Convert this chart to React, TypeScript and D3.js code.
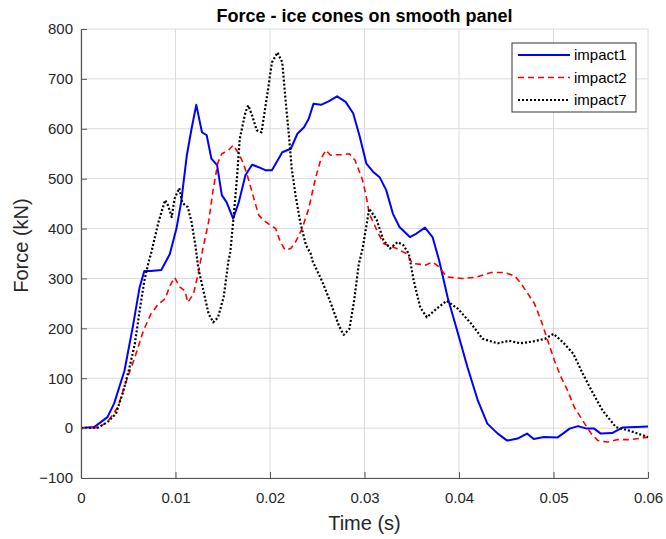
import React, { useEffect, useRef } from 'react';
import * as d3 from 'd3';

// impact1 (blue, solid)
const time1 = [0, 0.0014, 0.0028, 0.0035, 0.0046, 0.0055, 0.0062, 0.0067, 0.0074, 0.0085,
  0.0094, 0.0101, 0.0106, 0.0112, 0.0117, 0.0122, 0.0128, 0.0133, 0.0138, 0.0144,
  0.0149, 0.0154, 0.0161, 0.0167, 0.0174, 0.0181, 0.0188, 0.0195, 0.0202, 0.0206,
  0.0213, 0.0222, 0.0229, 0.0236, 0.0241, 0.0246, 0.0254, 0.0262, 0.0271, 0.028,
  0.0288, 0.0295, 0.0302, 0.0309, 0.0316, 0.0323, 0.033, 0.0337, 0.0348, 0.0355,
  0.0364, 0.0372, 0.0379, 0.0388, 0.0399, 0.0409, 0.042, 0.043, 0.0441, 0.0451,
  0.0462, 0.0472, 0.0479, 0.049, 0.0504, 0.051, 0.0517, 0.0526, 0.0535, 0.0543,
  0.055, 0.0562, 0.0573, 0.0587, 0.06];
const force1 = [0, 2, 22, 49, 115, 205, 282, 315, 315, 317,
  349, 400, 453, 547, 600, 648, 593, 587, 540, 527,
  467, 453, 420, 453, 507, 528, 523, 517, 517, 530,
  553, 560, 590, 603, 620, 650, 648, 655, 665, 654,
  631, 584, 530, 514, 503, 477, 430, 403, 383, 390,
  402, 383, 336, 262, 189, 122, 55, 9, -11, -25,
  -21, -11, -22, -18, -19, -11, -1, 4, -1, -1,
  -11, -10, 1, 2, 3];

// impact2 (red, dashed)
const time2 = [0, 0.0018, 0.0028, 0.0039, 0.0048, 0.0057, 0.0066, 0.0074, 0.0082, 0.0089,
  0.0094, 0.0099, 0.0105, 0.011, 0.0113, 0.0119, 0.0124, 0.0129, 0.0135, 0.014,
  0.0145, 0.0149, 0.0156, 0.0161, 0.0167, 0.0172, 0.0177, 0.0183, 0.0188, 0.0193,
  0.02, 0.0206, 0.0211, 0.0216, 0.0222, 0.0227, 0.0234, 0.0241, 0.0248, 0.0254,
  0.0259, 0.0264, 0.027, 0.0277, 0.0284, 0.029, 0.0298, 0.0302, 0.0305, 0.0313,
  0.032, 0.0334, 0.0344, 0.0351, 0.0365, 0.0372, 0.0379, 0.0387, 0.0404, 0.0417,
  0.0434, 0.0448, 0.0459, 0.0466, 0.0473, 0.048, 0.0487, 0.0494, 0.0501, 0.0508,
  0.0515, 0.0522, 0.0533, 0.054, 0.0547, 0.0557, 0.0568, 0.0582, 0.06];
const force2 = [0, 1, 12, 42, 95, 142, 195, 229, 249, 259,
  285, 302, 282, 275, 252, 269, 309, 360, 413, 480,
  533, 550, 557, 567, 550, 530, 500, 460, 427, 417,
  407, 400, 373, 357, 360, 373, 400, 440, 500, 540,
  557, 547, 548, 548, 550, 537, 497, 463, 430, 397,
  370, 360, 350, 330, 327, 333, 323, 303, 300, 302,
  312, 312, 305, 289, 269, 249, 215, 175, 135, 102,
  75, 42, 9, -11, -25, -28, -23, -23, -18];

// impact7 (black, dotted)
const time7 = [0, 0.0018, 0.0028, 0.0037, 0.0044, 0.0051, 0.0057, 0.0062, 0.0067, 0.0071,
  0.0074, 0.0082, 0.0089, 0.0092, 0.0096, 0.0099, 0.0104, 0.0107, 0.011, 0.0113,
  0.0117, 0.0121, 0.0124, 0.0131, 0.0135, 0.014, 0.0145, 0.0151, 0.0156, 0.0158,
  0.0161, 0.0165, 0.0168, 0.0174, 0.0177, 0.0181, 0.0186, 0.0191, 0.0197, 0.0202,
  0.0208, 0.0213, 0.0216, 0.022, 0.0223, 0.0227, 0.0232, 0.0238, 0.0243, 0.0245,
  0.0255, 0.0264, 0.0273, 0.0278, 0.0284, 0.0289, 0.0294, 0.0298, 0.0305, 0.0313,
  0.032, 0.0327, 0.0335, 0.0341, 0.0347, 0.0352, 0.0359, 0.0366, 0.0376, 0.0387,
  0.0399, 0.0413, 0.0425, 0.0441, 0.0453, 0.0465, 0.0479, 0.0491, 0.05, 0.051,
  0.0521, 0.0531, 0.0542, 0.0552, 0.0566, 0.058, 0.06];
const force7 = [0, 1, 12, 29, 69, 119, 169, 235, 295, 329,
  349, 413, 457, 447, 423, 460, 481, 453, 447, 443,
  413, 367, 322, 263, 229, 212, 222, 263, 335, 353,
  413, 500, 580, 633, 647, 627, 597, 593, 667, 733,
  753, 733, 667, 587, 520, 467, 413, 367, 350, 335,
  295, 252, 205, 187, 199, 255, 329, 360, 440, 417,
  377, 360, 373, 367, 349, 296, 242, 222, 239, 255,
  239, 209, 179, 170, 175, 170, 174, 179, 189, 172,
  149, 109, 69, 35, 2, -5, -18];

const seriesNames = ['impact1', 'impact2', 'impact7'];
const xTicks = [0, 0.01, 0.02, 0.03, 0.04, 0.05, 0.06];
const yTicks = [-100, 0, 100, 200, 300, 400, 500, 600, 700, 800];

const styles = [
  { color: '#0000ff', width: 2, dash: null },
  { color: '#ff0000', width: 1.6, dash: '6,4' },
  { color: '#000000', width: 2.2, dash: '2,2' },
];

function App() {
  const ref = useRef<SVGSVGElement>(null);

  useEffect(() => {
    const svg = d3.select(ref.current);
    svg.selectAll('*').remove();

    const left = 81, right = 648, top = 29, bottom = 478;
    const font = 'Liberation Sans, Arial, Helvetica, sans-serif';

    const x = d3.scaleLinear().domain([0, 0.06]).range([left, right]);
    const y = d3.scaleLinear().domain([-100, 800]).range([bottom, top]);

    svg.append('rect').attr('width', 666).attr('height', 539).attr('fill', '#fff');

    // grid
    const grid = svg.append('g').attr('stroke', '#dcdcdc').attr('stroke-width', 1);
    xTicks.forEach(t => {
      grid.append('line').attr('x1', x(t)).attr('x2', x(t)).attr('y1', top).attr('y2', bottom);
    });
    yTicks.forEach(v => {
      grid.append('line').attr('x1', left).attr('x2', right).attr('y1', y(v)).attr('y2', y(v));
    });

    // series
    const data = [
      time1.map((t, i) => [t, force1[i]]),
      time2.map((t, i) => [t, force2[i]]),
      time7.map((t, i) => [t, force7[i]]),
    ];
    const line = d3.line<number[]>().x(d => x(d[0])).y(d => y(d[1]));
    data.forEach((pts, i) => {
      const s = styles[i];
      svg.append('path')
        .attr('d', line(pts))
        .attr('fill', 'none')
        .attr('stroke', s.color)
        .attr('stroke-width', s.width)
        .attr('stroke-linejoin', 'round')
        .attr('stroke-dasharray', s.dash);
    });

    // axes
    const xAxis = svg.append('g')
      .attr('transform', `translate(0,${bottom})`)
      .call(d3.axisBottom(x).tickValues(xTicks).tickSizeInner(-6).tickSizeOuter(0).tickPadding(14)
        .tickFormat(d => (d === 0 ? '0' : d3.format('.2f')(d as number))));
    const yAxis = svg.append('g')
      .attr('transform', `translate(${left},0)`)
      .call(d3.axisLeft(y).tickValues(yTicks).tickSizeInner(-6).tickSizeOuter(0).tickPadding(8)
        .tickFormat(d3.format('d')));
    [xAxis, yAxis].forEach(a => {
      a.select('.domain').attr('stroke', '#555').attr('stroke-width', 1.2);
      a.selectAll('.tick line').attr('stroke', '#555');
      a.selectAll('.tick text').attr('fill', '#262626').attr('font-size', 15).attr('font-family', font);
    });

    // title and labels
    svg.append('text')
      .attr('x', (left + right) / 2).attr('y', 22)
      .attr('text-anchor', 'middle')
      .attr('font-family', font).attr('font-size', 18).attr('font-weight', 'bold')
      .attr('fill', '#000')
      .text('Force - ice cones on smooth panel');
    svg.append('text')
      .attr('x', (left + right) / 2).attr('y', 530)
      .attr('text-anchor', 'middle')
      .attr('font-family', font).attr('font-size', 20)
      .attr('fill', '#262626')
      .text('Time (s)');
    svg.append('text')
      .attr('transform', `translate(28,${(top + bottom) / 2 - 8}) rotate(-90)`)
      .attr('text-anchor', 'middle')
      .attr('font-family', font).attr('font-size', 20)
      .attr('fill', '#262626')
      .text('Force (kN)');

    // legend
    const lg = svg.append('g').attr('transform', 'translate(512,43)');
    lg.append('rect').attr('width', 124).attr('height', 69)
      .attr('fill', '#fff').attr('stroke', '#333').attr('stroke-width', 1);
    seriesNames.forEach((name, i) => {
      const s = styles[i];
      const yy = 12 + i * 22.5;
      lg.append('line')
        .attr('x1', 6).attr('x2', 58).attr('y1', yy).attr('y2', yy)
        .attr('stroke', s.color).attr('stroke-width', s.width)
        .attr('stroke-dasharray', s.dash);
      lg.append('text')
        .attr('x', 62).attr('y', yy + 5)
        .attr('font-family', font).attr('font-size', 15)
        .attr('fill', '#000')
        .text(name);
    });
  }, []);

  return (
    <svg ref={ref} width={666} height={539}
      style={{ position: 'absolute', left: 0, top: 0, display: 'block' }} />
  );
}

export default App;
